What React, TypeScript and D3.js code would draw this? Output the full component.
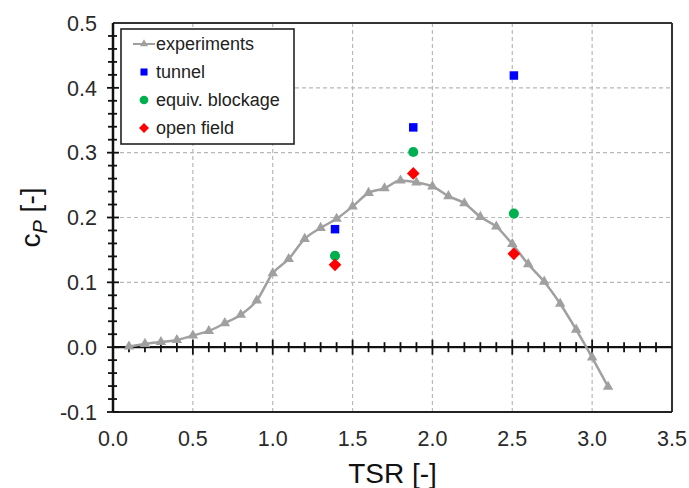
import React from "react";
import * as d3 from "d3";

const expTSR = [0.1, 0.2, 0.3, 0.4, 0.5, 0.6, 0.7, 0.8, 0.9, 1.0, 1.1, 1.2, 1.3, 1.4, 1.5, 1.6, 1.7, 1.8, 1.9, 2.0, 2.1, 2.2, 2.3, 2.4, 2.5, 2.6, 2.7, 2.8, 2.9, 3.0, 3.1];
const expCp = [0.001, 0.005, 0.008, 0.011, 0.018, 0.025, 0.037, 0.050, 0.072, 0.114, 0.136, 0.167, 0.184, 0.198, 0.217, 0.238, 0.245, 0.257, 0.254, 0.248, 0.233, 0.222, 0.201, 0.186, 0.159, 0.128, 0.101, 0.067, 0.027, -0.016, -0.061];

const simTSR = [1.39, 1.88, 2.51];
const tunnelCp = [0.182, 0.339, 0.419];
const blockageCp = [0.141, 0.301, 0.206];
const openFieldCp = [0.127, 0.268, 0.144];

const xTicks = [0.0, 0.5, 1.0, 1.5, 2.0, 2.5, 3.0, 3.5];
const yTicks = [-0.1, 0.0, 0.1, 0.2, 0.3, 0.4, 0.5];

const legendLabels = ["experiments", "tunnel", "equiv. blockage", "open field"];

const W = 689;
const H = 488;
const L = 113;
const R = 672;
const T = 23;
const B = 412;

const squareDiamond = {
  draw(ctx: any, size: number) {
    const r = Math.sqrt(size / 2);
    ctx.moveTo(0, -r);
    ctx.lineTo(r, 0);
    ctx.lineTo(0, r);
    ctx.lineTo(-r, 0);
    ctx.closePath();
  },
};

export default function App() {
  const x = d3.scaleLinear().domain([0, 3.5]).range([L, R]);
  const y = d3.scaleLinear().domain([-0.1, 0.5]).range([B, T]);
  const line = d3
    .line<number>()
    .x((_, i) => x(expTSR[i]))
    .y((d) => y(d))
    .curve(d3.curveMonotoneX);

  const minorX = d3.range(1, 35).map((i) => i / 10);
  const minorY = d3.range(-5, 25).map((i) => i / 50);
  const font = "'Liberation Sans', Arial, sans-serif";
  const tri = d3.symbol().type(d3.symbolTriangle).size(48)() as string;
  const triSmall = d3.symbol().type(d3.symbolTriangle).size(28)() as string;
  const sq = d3.symbol().type(d3.symbolSquare).size(72)() as string;
  const circ = d3.symbol().type(d3.symbolCircle).size(80)() as string;
  const dia = d3.symbol().type(squareDiamond as any).size(80)() as string;

  const legX = 121;
  const legY = 29;
  const legRowY = [44, 72, 100, 128];

  return (
    <svg width={W} height={H} style={{ position: "absolute", left: 0, top: 0, background: "#fff" }} fontFamily={font}>
      <rect x={0} y={0} width={W} height={H} fill="#fff" />
      {/* grid */}
      {xTicks.filter((v) => v > 0 && v < 3.5).map((v) => (
        <line key={"gx" + v} x1={x(v)} x2={x(v)} y1={T} y2={B} stroke="#b8b8b8" strokeWidth={1.2} strokeDasharray="4,3" />
      ))}
      {yTicks.filter((v) => v > 0 && v < 0.5).map((v) => (
        <line key={"gy" + v} x1={L} x2={R} y1={y(v)} y2={y(v)} stroke="#b8b8b8" strokeWidth={1.2} strokeDasharray="4,3" />
      ))}
      {/* frame */}
      <line x1={L} x2={R} y1={T} y2={T} stroke="#333" strokeWidth={2} />
      <line x1={R} x2={R} y1={T} y2={B} stroke="#333" strokeWidth={2} />
      <line x1={L} x2={R} y1={B} y2={B} stroke="#222" strokeWidth={2} />
      <line x1={L} x2={L} y1={T} y2={B} stroke="#111" strokeWidth={2.5} />
      <line x1={L} x2={R} y1={y(0)} y2={y(0)} stroke="#111" strokeWidth={2.2} />
      {/* y ticks */}
      {minorY.map((v) => {
        const major = Math.abs(v * 10 - Math.round(v * 10)) < 1e-6;
        return (
          <line key={"ty" + v} x1={L - (major ? 6 : 5)} x2={L + (major ? 6 : 4)} y1={y(v)} y2={y(v)} stroke="#111" strokeWidth={1.8} />
        );
      })}
      {/* x ticks on zero axis */}
      {minorX.map((v) => {
        const major = Math.abs(v * 2 - Math.round(v * 2)) < 1e-6;
        return (
          <line key={"tx" + v} x1={x(v)} x2={x(v)} y1={y(0) - (major ? 7.5 : 5)} y2={y(0) + (major ? 7.5 : 5)} stroke="#111" strokeWidth={1.8} />
        );
      })}
      {/* tick labels */}
      {yTicks.map((v) => (
        <text key={"ly" + v} x={97} y={y(v)} dy="0.36em" textAnchor="end" fontSize={21.5} fill="#2a2a2a">
          {v.toFixed(1)}
        </text>
      ))}
      {xTicks.map((v) => (
        <text key={"lx" + v} x={x(v)} y={446} textAnchor="middle" fontSize={21.5} fill="#2a2a2a">
          {v.toFixed(1)}
        </text>
      ))}
      {/* axis titles */}
      <text x={(L + R) / 2} y={483} textAnchor="middle" fontSize={28} fill="#111">
        TSR [-]
      </text>
      <text transform={`translate(40,${(T + B) / 2}) rotate(-90)`} textAnchor="middle" fontSize={28} fill="#111">
        c<tspan fontStyle="italic" fontSize={20} dy={7}>P</tspan>
        <tspan dy={-7}> [-]</tspan>
      </text>
      {/* experiments */}
      <path d={line(expCp) as string} fill="none" stroke="#a0a0a0" strokeWidth={2.5} />
      {expCp.map((v, i) => (
        <path key={"e" + i} d={tri} transform={`translate(${x(expTSR[i])},${y(v)})`} fill="#a0a0a0" />
      ))}
      {/* simulations */}
      {tunnelCp.map((v, i) => (
        <path key={"t" + i} d={sq} transform={`translate(${x(simTSR[i])},${y(v)})`} fill="#0000ff" />
      ))}
      {blockageCp.map((v, i) => (
        <path key={"b" + i} d={circ} transform={`translate(${x(simTSR[i])},${y(v)})`} fill="#00b050" />
      ))}
      {openFieldCp.map((v, i) => (
        <path key={"o" + i} d={dia} transform={`translate(${x(simTSR[i])},${y(v)})`} fill="#ff0000" />
      ))}
      {/* legend */}
      <rect x={legX} y={legY} width={173} height={115} fill="#fff" stroke="#222" strokeWidth={1.6} />
      <line x1={133} x2={155} y1={legRowY[0]} y2={legRowY[0]} stroke="#a0a0a0" strokeWidth={2} />
      <path d={triSmall} transform={`translate(144,${legRowY[0]})`} fill="#a0a0a0" />
      <path d={d3.symbol().type(d3.symbolSquare).size(50)() as string} transform={`translate(144,${legRowY[1]})`} fill="#0000ff" />
      <path d={d3.symbol().type(d3.symbolCircle).size(60)() as string} transform={`translate(144,${legRowY[2]})`} fill="#00b050" />
      <path d={d3.symbol().type(squareDiamond as any).size(50)() as string} transform={`translate(144,${legRowY[3]})`} fill="#ff0000" />
      {legendLabels.map((s, i) => (
        <text key={s} x={156} y={legRowY[i]} dy="0.36em" fontSize={18} fill="#222">
          {s}
        </text>
      ))}
    </svg>
  );
}
